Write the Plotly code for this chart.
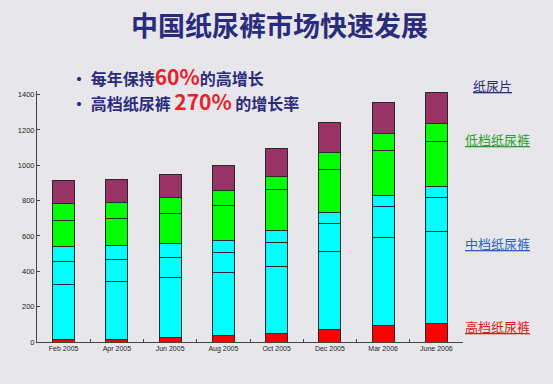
import plotly.graph_objects as go

months = ["Feb 2005", "Apr 2005", "Jun 2005", "Aug 2005", "Oct 2005", "Dec 2005", "Mar 2006", "June 2006"]
# stacked segments, bottom to top
high_end = [12, 17, 28, 36, 47, 69, 94, 107]          # 高档纸尿裤
mid_a = [315, 325, 337, 359, 380, 441, 495, 520]      # 中档纸尿裤 (segment 1)
mid_b = [128, 123, 115, 111, 137, 158, 177, 188]      # 中档纸尿裤 (segment 2)
mid_c = [85, 79, 79, 68, 66, 66, 64, 63]              # 中档纸尿裤 (segment 3)
low_a = [150, 154, 169, 197, 230, 244, 256, 258]      # 低档纸尿裤 (segment 1)
low_b = [95, 94, 88, 85, 79, 94, 94, 100]             # 低档纸尿裤 (segment 2)
pads = [131, 130, 134, 145, 156, 172, 176, 177]       # 纸尿片
y_ticks = [0, 200, 400, 600, 800, 1000, 1200, 1400]

series = [
    (high_end, "#ff0000"),
    (mid_a, "#00ffff"),
    (mid_b, "#00ffff"),
    (mid_c, "#00ffff"),
    (low_a, "#00ff00"),
    (low_b, "#00ff00"),
    (pads, "#993366"),
]

fig = go.Figure()
for vals, col in series:
    fig.add_trace(go.Bar(
        x=months, y=vals, marker=dict(color=col, line=dict(color="#2a2a2a", width=1)),
        width=0.41, cliponaxis=False, showlegend=False, hoverinfo="skip"))

bg = "#e7e7eb"
Y0 = 342.3   # pixel of value 0
PPU = 248 / 1400.0
top_val = 1420
plot_top = Y0 - top_val * PPU
fig.update_layout(
    barmode="stack",
    width=553, height=384,
    margin=dict(l=37, r=90, t=plot_top, b=384 - Y0),
    paper_bgcolor=bg, plot_bgcolor=bg,
    font=dict(family="Liberation Sans, Arial", color="#222222"),
    xaxis=dict(showline=True, linecolor="#444444", linewidth=1, ticks="inside", ticklen=3,
               tickson="boundaries", tickcolor="#444444", tickfont=dict(size=7, color="#222222"),
               showgrid=False),
    yaxis=dict(range=[0, top_val], tickvals=y_ticks, showline=True, linecolor="#444444", linewidth=1,
               ticks="inside", ticklen=3, tickcolor="#444444", tickfont=dict(size=7.5, color="#222222"),
               showgrid=False, zeroline=False),
)

H = Y0 - plot_top


def py(p):
    return (Y0 - p) / H


def px(p):
    return (p - 37) / 426.0


cjk = "Noto Sans CJK SC"
navy = "#2b2b7d"
fig.add_annotation(xref="paper", yref="paper", x=px(279), y=py(24),
                   text="<b>中国纸尿裤市场快速发展</b>", showarrow=False,
                   font=dict(family=cjk, size=27, color=navy), xanchor="center", yanchor="middle")
fig.add_annotation(xref="paper", yref="paper", x=px(69), y=py(76),
                   text="<b>• 每年保持<span style='color:#e8202a;font-size:21px'>60%</span>的高增长</b>",
                   showarrow=False, font=dict(family=cjk, size=16, color=navy),
                   xanchor="left", yanchor="middle")
fig.add_annotation(xref="paper", yref="paper", x=px(69), y=py(101),
                   text="<b>• 高档纸尿裤 <span style='color:#e8202a;font-size:21px'>270%</span> 的增长率</b>",
                   showarrow=False, font=dict(family=cjk, size=16, color=navy),
                   xanchor="left", yanchor="middle")

labels = [("纸尿片", 492, 85, "#2b2b7d"), ("低档纸尿裤", 497, 139, "#2e9e2e"),
          ("中档纸尿裤", 497, 244, "#2a62c8"), ("高档纸尿裤", 497, 327, "#e01818")]
for txt, lx, ly, col in labels:
    fig.add_annotation(xref="paper", yref="paper", x=px(lx), y=py(ly),
                       text="<u>" + txt + "</u>", showarrow=False,
                       font=dict(family=cjk, size=13, color=col), xanchor="center", yanchor="middle")

fig.write_html("out.html", config={"displayModeBar": False},
               post_script="document.body.style.margin='0px';")
